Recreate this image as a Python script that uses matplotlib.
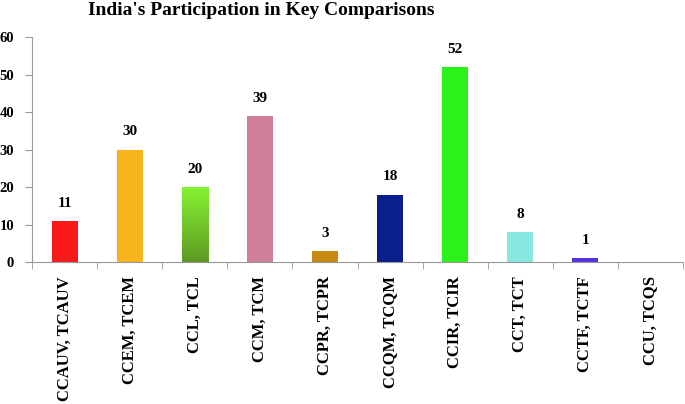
import matplotlib
matplotlib.use("Agg")
import matplotlib.pyplot as plt
import numpy as np
from matplotlib.colors import LinearSegmentedColormap

categories = ["CCAUV, TCAUV", "CCEM, TCEM", "CCL, TCL", "CCM, TCM", "CCPR, TCPR",
              "CCQM, TCQM", "CCIR, TCIR", "CCT, TCT", "CCTF, TCTF", "CCU, TCQS"]
values = [11, 30, 20, 39, 3, 18, 52, 8, 1, 0]
colors = ["#fb1a1a", "#f8b41c", "#72cc2c", "#d07f98", "#c88a12",
          "#0b1f8c", "#2af21a", "#88e8e0", "#5533dd", "#ffffff"]
yticks = [0, 10, 20, 30, 40, 50, 60]

plt.rcParams['font.family'] = ['Liberation Serif', 'DejaVu Serif']
fig = plt.figure(figsize=(6.85, 4.04), dpi=100)
ax = fig.add_axes([0.047, 0.3515, 0.950, 0.5565])

x = np.arange(len(categories))
bars = ax.bar(x, values, width=0.4, color=colors)

# gradient for CCL bar
b = bars[2]
grad = np.linspace(0, 1, 100).reshape(-1, 1)
cmap = LinearSegmentedColormap.from_list("g", ["#5e9a22", "#86f232"])
im = ax.imshow(grad, cmap=cmap, aspect='auto', origin='lower',
               extent=[b.get_x(), b.get_x() + b.get_width(), 0, b.get_height()], zorder=2)
im.set_clip_path(b)

for xi, v in zip(x, values):
    if v > 0:
        ax.annotate(str(v), (xi, v), xytext=(0, 8), textcoords='offset points',
                    ha='center', va='bottom', fontsize=11, fontweight='bold')

ax.set_xlim(-0.5, len(categories) - 0.5)
ax.set_ylim(0, 60)
ax.set_yticks(yticks)
ax.set_yticklabels([str(t) for t in yticks], fontsize=10.5, fontweight='bold')
ax.set_xticks(x)
ax.set_xticklabels(categories, rotation=90, fontsize=12, fontweight='bold')
ax.tick_params(axis='x', length=0, pad=10)
ax.set_xticks(np.arange(-0.5, len(categories), 1), minor=True)
ax.tick_params(axis='x', which='minor', length=5, color='#999999')
ax.tick_params(axis='y', length=5, color='#999999', pad=8)
for s in ['top', 'right']:
    ax.spines[s].set_visible(False)
for s in ['left', 'bottom']:
    ax.spines[s].set_color('#999999')
fig.text(0.381, 0.975, "India's Participation in Key Comparisons", fontsize=14,
         fontweight='bold', ha='center', va='center')

fig.savefig("out.png", dpi=100)
